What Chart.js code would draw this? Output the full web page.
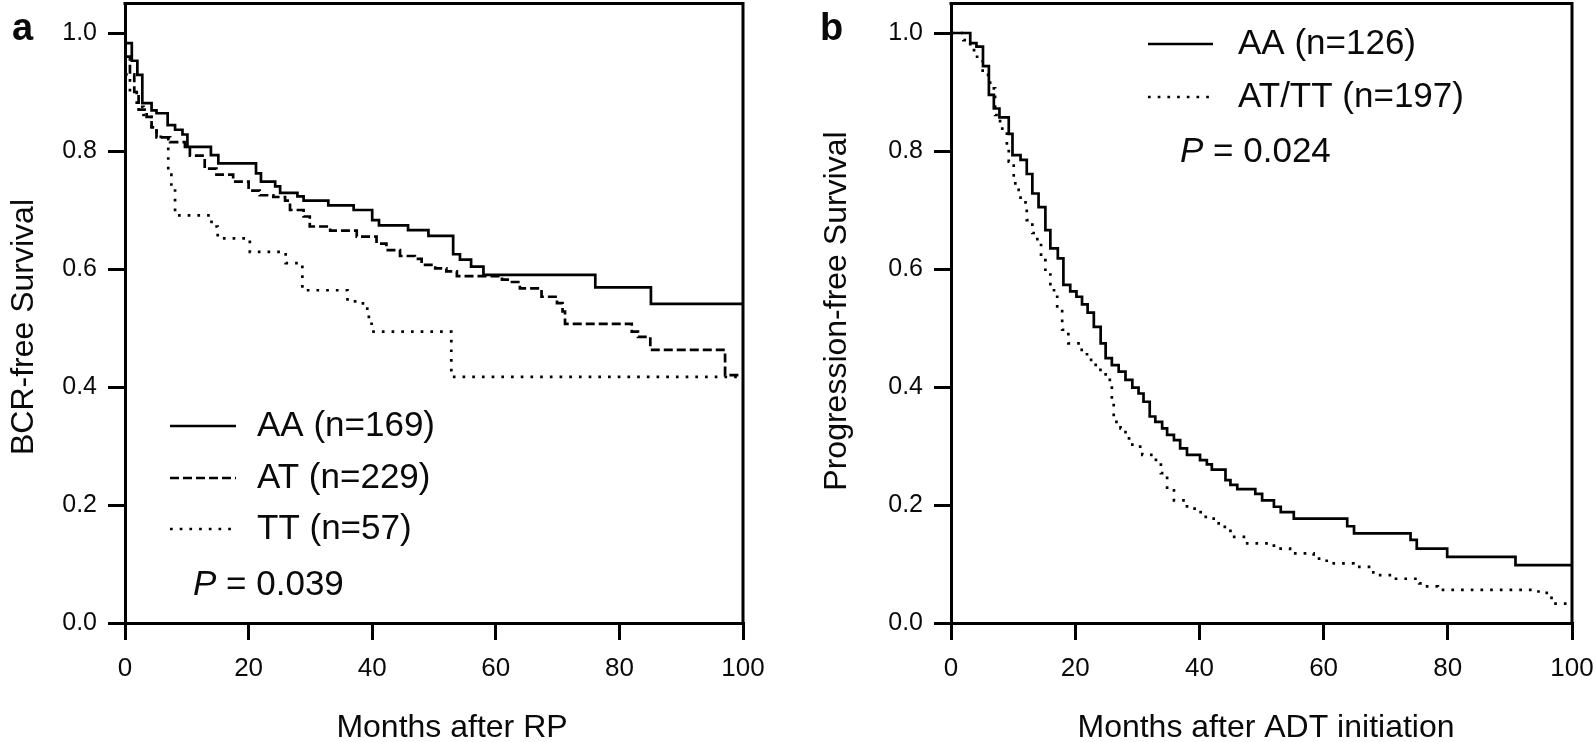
<!DOCTYPE html>
<html>
<head>
<meta charset="utf-8">
<script src="https://cdn.jsdelivr.net/npm/chart.js@4.4.1/dist/chart.umd.min.js"></script>
<style>
  html, body { margin: 0; padding: 0; background: #fff; }
  #wrap { position: relative; width: 1595px; height: 742px; }
  canvas { position: absolute; top: 0; }
  #chartA { left: 0; }
  #chartB { left: 800px; }
</style>
</head>
<body>
<div id="wrap">
  <canvas id="chartA" width="800" height="742"></canvas>
  <canvas id="chartB" width="795" height="742"></canvas>
</div>
<script>
// axis ticks (shared)
const xTicks = [0, 20, 40, 60, 80, 100];
const yTicks = [0, 0.2, 0.4, 0.6, 0.8, 1.0];

// panel a - BCR-free survival after RP
const aaTimeA = [0, 1.1, 2.0, 2.8, 4.3, 5.1, 6.9, 8.1, 9.3, 10.1, 13.9, 15.1, 21.2, 22.0, 24.3, 25.1, 27.9, 28.9, 32.9, 37.0, 40.0, 41.1, 45.8, 49.1, 53.1, 54.2, 56.0, 58.0, 76.1, 85.1, 100];
const aaSurvA = [0.983, 0.953, 0.929, 0.881, 0.869, 0.864, 0.844, 0.836, 0.828, 0.807, 0.793, 0.779, 0.762, 0.748, 0.740, 0.729, 0.723, 0.716, 0.708, 0.700, 0.683, 0.674, 0.666, 0.656, 0.625, 0.616, 0.604, 0.590, 0.569, 0.541, 0.541];

const atTimeA = [0, 0.8, 1.5, 2.2, 3.5, 4.3, 5.1, 7.3, 9.7, 10.5, 12.9, 14.8, 17.5, 20.0, 21.8, 24.0, 25.9, 26.7, 28.9, 29.9, 33.2, 37.5, 40.7, 42.3, 44.5, 46.9, 48.0, 50.2, 52.0, 53.7, 61.0, 62.3, 63.9, 67.4, 69.9, 70.8, 71.2, 82.0, 83.0, 85.0, 97.1, 100];
const atSurvA = [0.96, 0.93, 0.90, 0.87, 0.858, 0.840, 0.823, 0.815, 0.807, 0.792, 0.770, 0.760, 0.748, 0.733, 0.725, 0.722, 0.716, 0.700, 0.689, 0.672, 0.665, 0.655, 0.643, 0.632, 0.622, 0.617, 0.607, 0.601, 0.596, 0.588, 0.582, 0.578, 0.567, 0.553, 0.542, 0.528, 0.507, 0.494, 0.485, 0.463, 0.420, 0.420];

const ttTimeA = [0, 0.8, 1.9, 3.0, 4.3, 5.1, 7.0, 7.5, 8.1, 14.0, 15.0, 20.2, 26.0, 28.7, 36.0, 38.5, 39.2, 39.9, 52.8, 100];
const ttSurvA = [0.93, 0.90, 0.875, 0.861, 0.838, 0.824, 0.760, 0.740, 0.691, 0.672, 0.652, 0.629, 0.610, 0.564, 0.545, 0.539, 0.519, 0.494, 0.417, 0.417];

const labelsA = ['AA (n=169)', 'AT (n=229)', 'TT (n=57)'];
const pValueA = '0.039';

// panel b - progression-free survival after ADT
const aaTimeB = [0, 3.1, 4.1, 5.15, 6.1, 6.9, 7.8, 9.3, 9.9, 11.2, 12.2, 13.1, 14.1, 15.2, 16.0, 17.2, 18.1, 19.2, 20.2, 21.1, 22.0, 23.0, 24.1, 24.9, 25.9, 27.0, 28.1, 29.2, 30.2, 31.0, 32.0, 32.9, 34.0, 34.8, 35.9, 36.9, 38.0, 40.1, 41.2, 42.0, 44.2, 45.0, 46.1, 49.0, 50.1, 52.0, 53.1, 55.2, 63.8, 64.9, 74.0, 75.0, 79.9, 90.9, 100];
const aaSurvB = [1.0, 0.983, 0.977, 0.944, 0.895, 0.872, 0.857, 0.829, 0.793, 0.785, 0.761, 0.728, 0.705, 0.666, 0.635, 0.618, 0.573, 0.562, 0.553, 0.540, 0.526, 0.502, 0.474, 0.449, 0.437, 0.426, 0.412, 0.399, 0.389, 0.375, 0.350, 0.341, 0.330, 0.319, 0.310, 0.296, 0.285, 0.276, 0.269, 0.260, 0.242, 0.234, 0.227, 0.219, 0.208, 0.197, 0.188, 0.177, 0.164, 0.152, 0.141, 0.126, 0.112, 0.098, 0.098];

const attTimeB = [0, 2.0, 3.1, 4.2, 5.1, 6.3, 7.1, 7.9, 9.0, 9.3, 10.1, 10.9, 11.2, 12.0, 12.2, 13.1, 13.9, 14.5, 15.2, 16.0, 17.1, 17.9, 18.9, 20.8, 21.9, 23.3, 24.9, 25.9, 26.2, 27.3, 28.1, 29.2, 30.8, 33.0, 33.8, 34.8, 35.9, 38.0, 40.2, 42.3, 43.4, 45.0, 47.7, 52.0, 54.6, 58.4, 60.5, 64.8, 68.0, 71.3, 75.4, 76.2, 78.4, 94.6, 96.7, 100];
const attSurvB = [1.0, 0.988, 0.971, 0.954, 0.929, 0.906, 0.861, 0.838, 0.810, 0.782, 0.745, 0.734, 0.717, 0.706, 0.683, 0.661, 0.644, 0.615, 0.593, 0.564, 0.531, 0.497, 0.474, 0.463, 0.446, 0.429, 0.412, 0.378, 0.341, 0.330, 0.313, 0.299, 0.285, 0.271, 0.254, 0.225, 0.208, 0.194, 0.180, 0.169, 0.163, 0.146, 0.135, 0.126, 0.118, 0.109, 0.101, 0.095, 0.081, 0.075, 0.067, 0.062, 0.056, 0.051, 0.033, 0.033];

const labelsB = ['AA (n=126)', 'AT/TT (n=197)'];
const pValueB = '0.024';

const FONT = '"Liberation Sans", Arial, Helvetica, sans-serif';
const INK = '#0a0a0a';
const SOLID = [], DASHED = [9, 4], DOTTED = [2.7, 7];

// draws the top and right border of the plot box
const framePlugin = {
  id: 'frame',
  afterDraw(chart) {
    const ctx = chart.ctx, a = chart.chartArea;
    ctx.save();
    ctx.strokeStyle = '#000';
    ctx.lineWidth = 3;
    ctx.setLineDash([]);
    ctx.beginPath();
    ctx.moveTo(a.left - 1.5, a.top);
    ctx.lineTo(a.right, a.top);
    ctx.lineTo(a.right, a.bottom);
    ctx.stroke();
    ctx.restore();
  }
};

function drawText(ctx, txt, x, y, size, opt) {
  opt = opt || {};
  ctx.save();
  ctx.fillStyle = INK;
  ctx.font = (opt.style || '') + ' ' + size + 'px ' + FONT;
  ctx.textAlign = opt.align || 'left';
  ctx.textBaseline = opt.baseline || 'middle';
  ctx.translate(x, y);
  if (opt.rotate) ctx.rotate(opt.rotate);
  ctx.fillText(txt, 0, 0);
  ctx.restore();
}

function drawLegend(ctx, chart, x0, x1, tx, rows) {
  chart.data.datasets.forEach(function(ds, i) {
    ctx.save();
    ctx.strokeStyle = '#000';
    ctx.lineWidth = ds.borderWidth;
    ctx.setLineDash(ds.borderDash);
    ctx.beginPath();
    ctx.moveTo(x0, rows[i]);
    ctx.lineTo(x1, rows[i]);
    ctx.stroke();
    ctx.restore();
    drawText(ctx, ds.label, tx, rows[i], 35);
  });
}

function drawP(ctx, val, x, y) {
  ctx.save();
  ctx.font = 'italic 35px ' + FONT;
  const w = ctx.measureText('P').width;
  ctx.restore();
  drawText(ctx, 'P', x, y, 35, { style: 'italic' });
  drawText(ctx, ' = ' + val, x + w, y, 35);
}

function kmChart(id, sets, yWidth, padRight, notes) {
  return new Chart(document.getElementById(id), {
    type: 'line',
    data: {
      datasets: sets.map(function(s) {
        return {
          label: s.label,
          data: s.time.map(function(t, i) { return { x: t, y: s.surv[i] }; }),
          stepped: true,
          borderColor: '#000',
          borderWidth: 2.7,
          borderDash: s.dash,
          pointRadius: 0,
          fill: false
        };
      })
    },
    options: {
      responsive: false,
      animation: false,
      devicePixelRatio: 1,
      layout: { padding: { left: 0, right: padRight, top: 3.5, bottom: 0 } },
      plugins: { legend: { display: false }, tooltip: { enabled: false } },
      scales: {
        x: {
          type: 'linear', min: 0, max: 100,
          afterBuildTicks: function(s) { s.ticks = xTicks.map(function(v) { return { value: v }; }); },
          afterFit: function(s) { s.height = 119; s.paddingLeft = 0; s.paddingRight = 0; },
          grid: { drawOnChartArea: false, drawTicks: true, tickLength: 17, tickWidth: 3, tickColor: '#000', lineWidth: 3, color: '#000' },
          border: { display: true, color: '#000', width: 3 },
          ticks: { color: INK, font: { family: FONT, size: 26 }, padding: 13, maxRotation: 0 }
        },
        y: {
          type: 'linear', min: 0, max: 1.05,
          afterBuildTicks: function(s) { s.ticks = yTicks.map(function(v) { return { value: v }; }); },
          afterFit: function(s) { s.width = yWidth; s.paddingTop = 0; s.paddingBottom = 0; },
          grid: { drawOnChartArea: false, drawTicks: true, tickLength: 17, tickWidth: 3, tickColor: '#000', lineWidth: 3, color: '#000' },
          border: { display: true, color: '#000', width: 3 },
          ticks: { color: INK, font: { family: FONT, size: 25 }, padding: 11, callback: function(v) { return v.toFixed(1); } }
        }
      }
    },
    plugins: [framePlugin, { id: 'notes', afterDraw: function(chart) { notes(chart.ctx, chart); } }]
  });
}

kmChart('chartA', [
  { label: labelsA[0], time: aaTimeA, surv: aaSurvA, dash: SOLID },
  { label: labelsA[1], time: atTimeA, surv: atSurvA, dash: DASHED },
  { label: labelsA[2], time: ttTimeA, surv: ttSurvA, dash: DOTTED }
], 125, 57, function(ctx, chart) {
  drawText(ctx, 'a', 12, 40, 38, { style: 'bold', baseline: 'alphabetic' });
  drawText(ctx, 'BCR-free Survival', 33, 327, 32, { align: 'center', baseline: 'alphabetic', rotate: -Math.PI / 2 });
  drawText(ctx, 'Months after RP', 452, 737, 32, { align: 'center', baseline: 'alphabetic' });
  drawLegend(ctx, chart, 170, 236, 257, [426, 478, 529]);
  drawP(ctx, pValueA, 193, 585);
});

kmChart('chartB', [
  { label: labelsB[0], time: aaTimeB, surv: aaSurvB, dash: SOLID },
  { label: labelsB[1], time: attTimeB, surv: attSurvB, dash: DOTTED }
], 151, 23, function(ctx, chart) {
  drawText(ctx, 'b', 20, 40, 38, { style: 'bold', baseline: 'alphabetic' });
  drawText(ctx, 'Progression-free Survival', 46, 311, 32, { align: 'center', baseline: 'alphabetic', rotate: -Math.PI / 2 });
  drawText(ctx, 'Months after ADT initiation', 466, 737, 32, { align: 'center', baseline: 'alphabetic' });
  drawLegend(ctx, chart, 348, 413, 438, [44, 97]);
  drawP(ctx, pValueB, 380, 152);
});
</script>
</body>
</html>
